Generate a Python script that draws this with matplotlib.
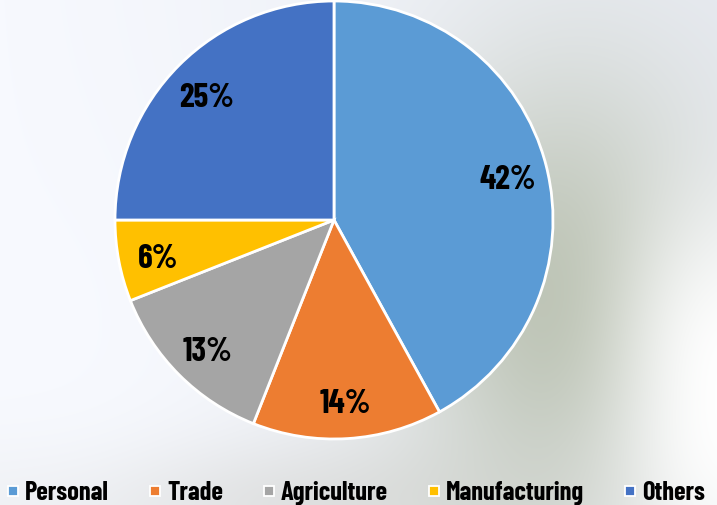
import numpy as np
import matplotlib
matplotlib.use("Agg")
import matplotlib.pyplot as plt
from matplotlib.lines import Line2D
from matplotlib.transforms import offset_copy

categories = ["Personal", "Trade", "Agriculture", "Manufacturing", "Others"]
shares = [42, 14, 13, 6, 25]
colors = ["#5B9BD5", "#ED7D31", "#A5A5A5", "#FFC000", "#4472C4"]

plt.rcParams["font.family"] = ["Barlow Condensed", "Saira Condensed", "DejaVu Sans"]

W, H = 717, 505
fig = plt.figure(figsize=(W / 100, H / 100), dpi=100)

# soft backdrop
yy, xx = np.mgrid[0:H, 0:W].astype(float)
bg = np.ones((H, W, 3))
base_top = np.array([233, 236, 243]) / 255
base_left = np.array([247, 249, 254]) / 255
t = np.clip(xx / W, 0, 1)[..., None]
bg[:] = base_left * (1 - t) + base_top * t


def blend(img, cx, cy, sx, sy, col, strength, p=2):
    d = np.abs((xx - cx) / sx) ** p + np.abs((yy - cy) / sy) ** p
    g = np.clip(np.exp(-d)[..., None] * strength, 0, 1)
    return img * (1 - g) + (np.array(col) / 255) * g


for spec in [
    (330, 505, 380, 70, (222, 223, 223), 0.95),
    (565, 300, 160, 230, (188, 195, 180), 1.0),
    (745, 395, 125, 200, (255, 255, 255), 1.0, 2.5),
    (60, 330, 160, 220, (248, 250, 255), 0.7),
]:
    bg = blend(bg, *spec)

bax = fig.add_axes([0, 0, 1, 1])
bax.imshow(bg, extent=[0, W, H, 0], aspect="auto", interpolation="bilinear")
bax.set_axis_off()

# pie
cx, cy, r = 334, 220, 219
ax = fig.add_axes([(cx - r) / W, (H - cy - r) / H, 2 * r / W, 2 * r / H])
wedges, texts, autotexts = ax.pie(
    shares,
    colors=colors,
    startangle=90,
    counterclock=False,
    autopct="%d%%",
    pctdistance=0.82,
    wedgeprops=dict(edgecolor="white", linewidth=2.0),
    textprops=dict(fontsize=24, fontweight="bold", color="black"),
)
for at in autotexts:
    at.set_transform(offset_copy(at.get_transform(), fig=fig, x=0, y=-5, units="dots"))
ax.set_xlim(-1, 1)
ax.set_ylim(-1, 1)
ax.set_axis_off()

handles = [
    Line2D([], [], marker="s", linestyle="none", markersize=6.5,
           markerfacecolor=c, markeredgecolor="white", markeredgewidth=1.3)
    for c in colors
]
leg = fig.legend(
    handles, categories, loc="center left", bbox_to_anchor=(0.0, 1 - 493 / H),
    ncol=5, frameon=False, handlelength=0.6, handletextpad=0.15,
    columnspacing=1.45, borderaxespad=0, borderpad=0.2,
    prop=dict(size=19, weight="bold"),
)

fig.savefig("out.png", dpi=100)
